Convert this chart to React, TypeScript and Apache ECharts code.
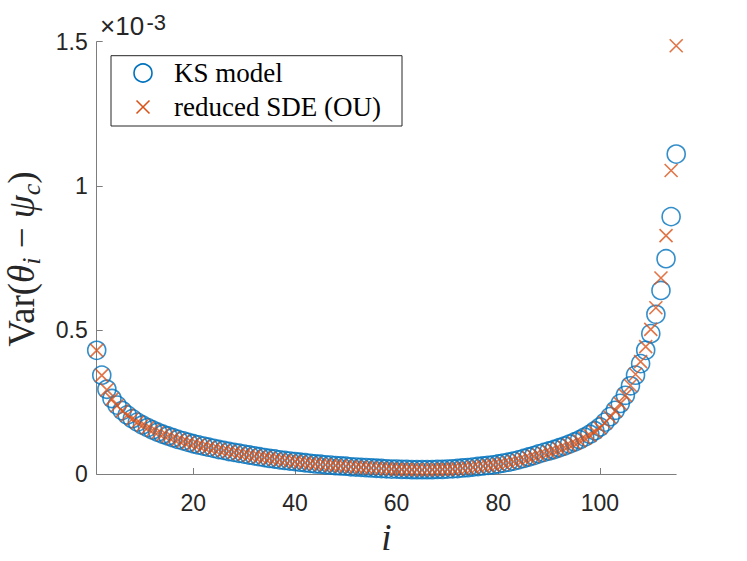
import React, { useEffect, useRef } from "react";
import * as echarts from "echarts";

// Var(theta_i - psi_c), in units of 1e-3, for i = 1..115
const KS_MODEL: number[] = [
  0.429, 0.343, 0.294, 0.262, 0.239, 0.220, 0.205, 0.192, 0.180, 0.170,
  0.161, 0.153, 0.145, 0.138, 0.132, 0.126, 0.120, 0.115, 0.110, 0.105,
  0.101, 0.097, 0.093, 0.089, 0.085, 0.082, 0.078, 0.075, 0.072, 0.069,
  0.066, 0.063, 0.060, 0.057, 0.054, 0.052, 0.049, 0.047, 0.045, 0.043,
  0.041, 0.039, 0.037, 0.035, 0.034, 0.032, 0.031, 0.029, 0.028, 0.027,
  0.025, 0.024, 0.023, 0.022, 0.021, 0.020, 0.019, 0.018, 0.017, 0.017,
  0.016, 0.016, 0.015, 0.015, 0.015, 0.015, 0.015, 0.016, 0.016, 0.017,
  0.018, 0.019, 0.021, 0.022, 0.024, 0.026, 0.028, 0.030, 0.032, 0.035,
  0.038, 0.041, 0.045, 0.049, 0.054, 0.059, 0.064, 0.070, 0.075, 0.080,
  0.085, 0.091, 0.097, 0.104, 0.111, 0.119, 0.128, 0.138, 0.150, 0.163,
  0.180, 0.199, 0.221, 0.245, 0.273, 0.306, 0.343, 0.383, 0.429, 0.487,
  0.554, 0.637, 0.747, 0.893, 1.110,
];

const REDUCED_SDE: number[] = [
  0.429, 0.342, 0.292, 0.260, 0.237, 0.219, 0.204, 0.191, 0.179, 0.169,
  0.160, 0.152, 0.144, 0.137, 0.131, 0.125, 0.119, 0.114, 0.109, 0.104,
  0.100, 0.096, 0.092, 0.088, 0.085, 0.081, 0.078, 0.075, 0.071, 0.068,
  0.065, 0.062, 0.059, 0.057, 0.054, 0.051, 0.049, 0.047, 0.045, 0.043,
  0.041, 0.039, 0.037, 0.035, 0.033, 0.032, 0.030, 0.029, 0.028, 0.026,
  0.025, 0.024, 0.023, 0.022, 0.021, 0.020, 0.019, 0.018, 0.017, 0.016,
  0.016, 0.015, 0.015, 0.015, 0.014, 0.014, 0.015, 0.015, 0.016, 0.016,
  0.017, 0.018, 0.020, 0.021, 0.023, 0.025, 0.027, 0.029, 0.031, 0.033,
  0.036, 0.039, 0.043, 0.047, 0.051, 0.056, 0.061, 0.066, 0.071, 0.076,
  0.081, 0.087, 0.093, 0.100, 0.107, 0.115, 0.124, 0.134, 0.146, 0.160,
  0.178, 0.197, 0.219, 0.244, 0.273, 0.307, 0.346, 0.390, 0.442, 0.502,
  0.577, 0.680, 0.827, 1.053, 1.486,
];

const X_TICKS: number[] = [20, 40, 60, 80, 100];
const Y_TICKS: number[] = [0, 0.5, 1, 1.5];
const LEGEND_NAMES: string[] = ["KS model", "reduced SDE (OU)"];
const EXPONENT_BASE = "×10";
const EXPONENT_POWER = "-3";

const BLUE = "#0072BD";
const ORANGE = "#D95319";
const AXIS = "#7d7d7d";
const TEXT = "#262626";

export default function App() {
  const ref = useRef<HTMLDivElement>(null);

  useEffect(() => {
    if (!ref.current) return;
    const chart = echarts.init(ref.current, undefined, { renderer: "svg" });

    const ksData = KS_MODEL.map((v, k) => [k + 1, v]);
    const sdeData = REDUCED_SDE.map((v, k) => [k + 1, v]);

    chart.setOption({
      animation: false,
      backgroundColor: "#ffffff",
      grid: { left: 96.7, right: 70.8, top: 41.7, bottom: 87, containLabel: false },
      xAxis: {
        type: "value",
        min: 1,
        max: KS_MODEL.length,
        splitLine: { show: false },
        axisLine: { show: true, lineStyle: { color: AXIS, width: 1 } },
        axisTick: {
          show: true,
          inside: true,
          length: 6,
          lineStyle: { color: AXIS },
          customValues: X_TICKS,
        },
        axisLabel: {
          customValues: X_TICKS,
          color: TEXT,
          fontFamily: "Liberation Sans",
          fontSize: 23,
          lineHeight: 23,
          margin: 17,
        },
      },
      yAxis: {
        type: "value",
        min: Y_TICKS[0],
        max: Y_TICKS[Y_TICKS.length - 1],
        interval: 0.5,
        splitLine: { show: false },
        axisLine: { show: true, lineStyle: { color: AXIS, width: 1 } },
        axisTick: { show: true, inside: true, length: 6, lineStyle: { color: AXIS } },
        axisLabel: {
          color: TEXT,
          fontFamily: "Liberation Sans",
          fontSize: 23,
          margin: 9,
          padding: [4, 0, 0, 0],
        },
      },
      series: [
        {
          type: "scatter",
          name: LEGEND_NAMES[0],
          data: ksData,
          symbol: "circle",
          symbolSize: 18,
          silent: true,
          itemStyle: { color: "rgba(255,255,255,0)", borderColor: BLUE, borderWidth: 1.6 },
          z: 2,
        },
        {
          type: "scatter",
          name: LEGEND_NAMES[1],
          data: sdeData,
          symbol: "path://M0,0L10,10M10,0L0,10",
          symbolSize: 13,
          silent: true,
          itemStyle: { color: "none", borderColor: ORANGE, borderWidth: 1.6 },
          z: 3,
        },
      ],
      graphic: [
        // exponent label
        {
          type: "text",
          id: "expbase",
          x: 100,
          y: 26,
          style: {
            text: EXPONENT_BASE,
            verticalAlign: "middle",
            fontFamily: "Liberation Sans",
            fontSize: 26,
            fill: TEXT,
          },
          z: 10,
        },
        {
          type: "text",
          id: "exppow",
          x: 146.5,
          y: 22,
          style: {
            text: EXPONENT_POWER,
            verticalAlign: "middle",
            fontFamily: "Liberation Sans",
            fontSize: 22,
            fill: TEXT,
          },
          z: 10,
        },
        // y axis title
        {
          type: "text",
          id: "ytitle",
          x: 21,
          y: 259,
          rotation: Math.PI / 2,
          style: {
            text: "{r|Var(}{it|θ}{sub|i}{r| − }{it|ψ}{sub|c}{r|)}",
            align: "center",
            verticalAlign: "middle",
            fill: TEXT,
            rich: {
              r: { fontFamily: "Liberation Serif", fontSize: 37, fill: TEXT, lineHeight: 46 },
              it: {
                fontFamily: "Liberation Serif",
                fontStyle: "italic",
                fontSize: 37,
                fill: TEXT,
                lineHeight: 46,
              },
              sub: {
                fontFamily: "Liberation Serif",
                fontStyle: "italic",
                fontSize: 26,
                fill: TEXT,
                lineHeight: 26,
                verticalAlign: "bottom",
              },
            },
          },
          z: 10,
        },
        // x axis title
        {
          type: "text",
          id: "xtitle",
          x: 386.5,
          y: 537,
          style: {
            text: "i",
            align: "center",
            verticalAlign: "middle",
            fontFamily: "Liberation Serif",
            fontStyle: "italic",
            fontSize: 37,
            fill: TEXT,
          },
          z: 10,
        },
        // legend
        {
          type: "rect",
          id: "legbox",
          shape: { x: 111, y: 55.7, width: 291, height: 70.3 },
          style: { fill: "#ffffff", stroke: TEXT, lineWidth: 1 },
          z: 20,
        },
        {
          type: "circle",
          id: "legcircle",
          shape: { cx: 143, cy: 73, r: 9 },
          style: { fill: "none", stroke: BLUE, lineWidth: 1.6 },
          z: 21,
        },
        {
          type: "line",
          id: "legx1",
          shape: { x1: 136.5, y1: 100.5, x2: 149.5, y2: 113.5 },
          style: { stroke: ORANGE, lineWidth: 1.6 },
          z: 21,
        },
        {
          type: "line",
          id: "legx2",
          shape: { x1: 149.5, y1: 100.5, x2: 136.5, y2: 113.5 },
          style: { stroke: ORANGE, lineWidth: 1.6 },
          z: 21,
        },
        {
          type: "text",
          id: "legt1",
          x: 174,
          y: 73,
          style: {
            text: LEGEND_NAMES[0],
            verticalAlign: "middle",
            fontFamily: "Liberation Serif",
            fontSize: 27,
            fill: "#000000",
          },
          z: 21,
        },
        {
          type: "text",
          id: "legt2",
          x: 174,
          y: 107,
          style: {
            text: LEGEND_NAMES[1],
            verticalAlign: "middle",
            fontFamily: "Liberation Serif",
            fontSize: 27,
            fill: "#000000",
          },
          z: 21,
        },
      ],
    });

    return () => chart.dispose();
  }, []);

  return (
    <div
      ref={ref}
      style={{ position: "fixed", left: 0, top: 0, width: 747, height: 561, background: "#fff" }}
    />
  );
}
